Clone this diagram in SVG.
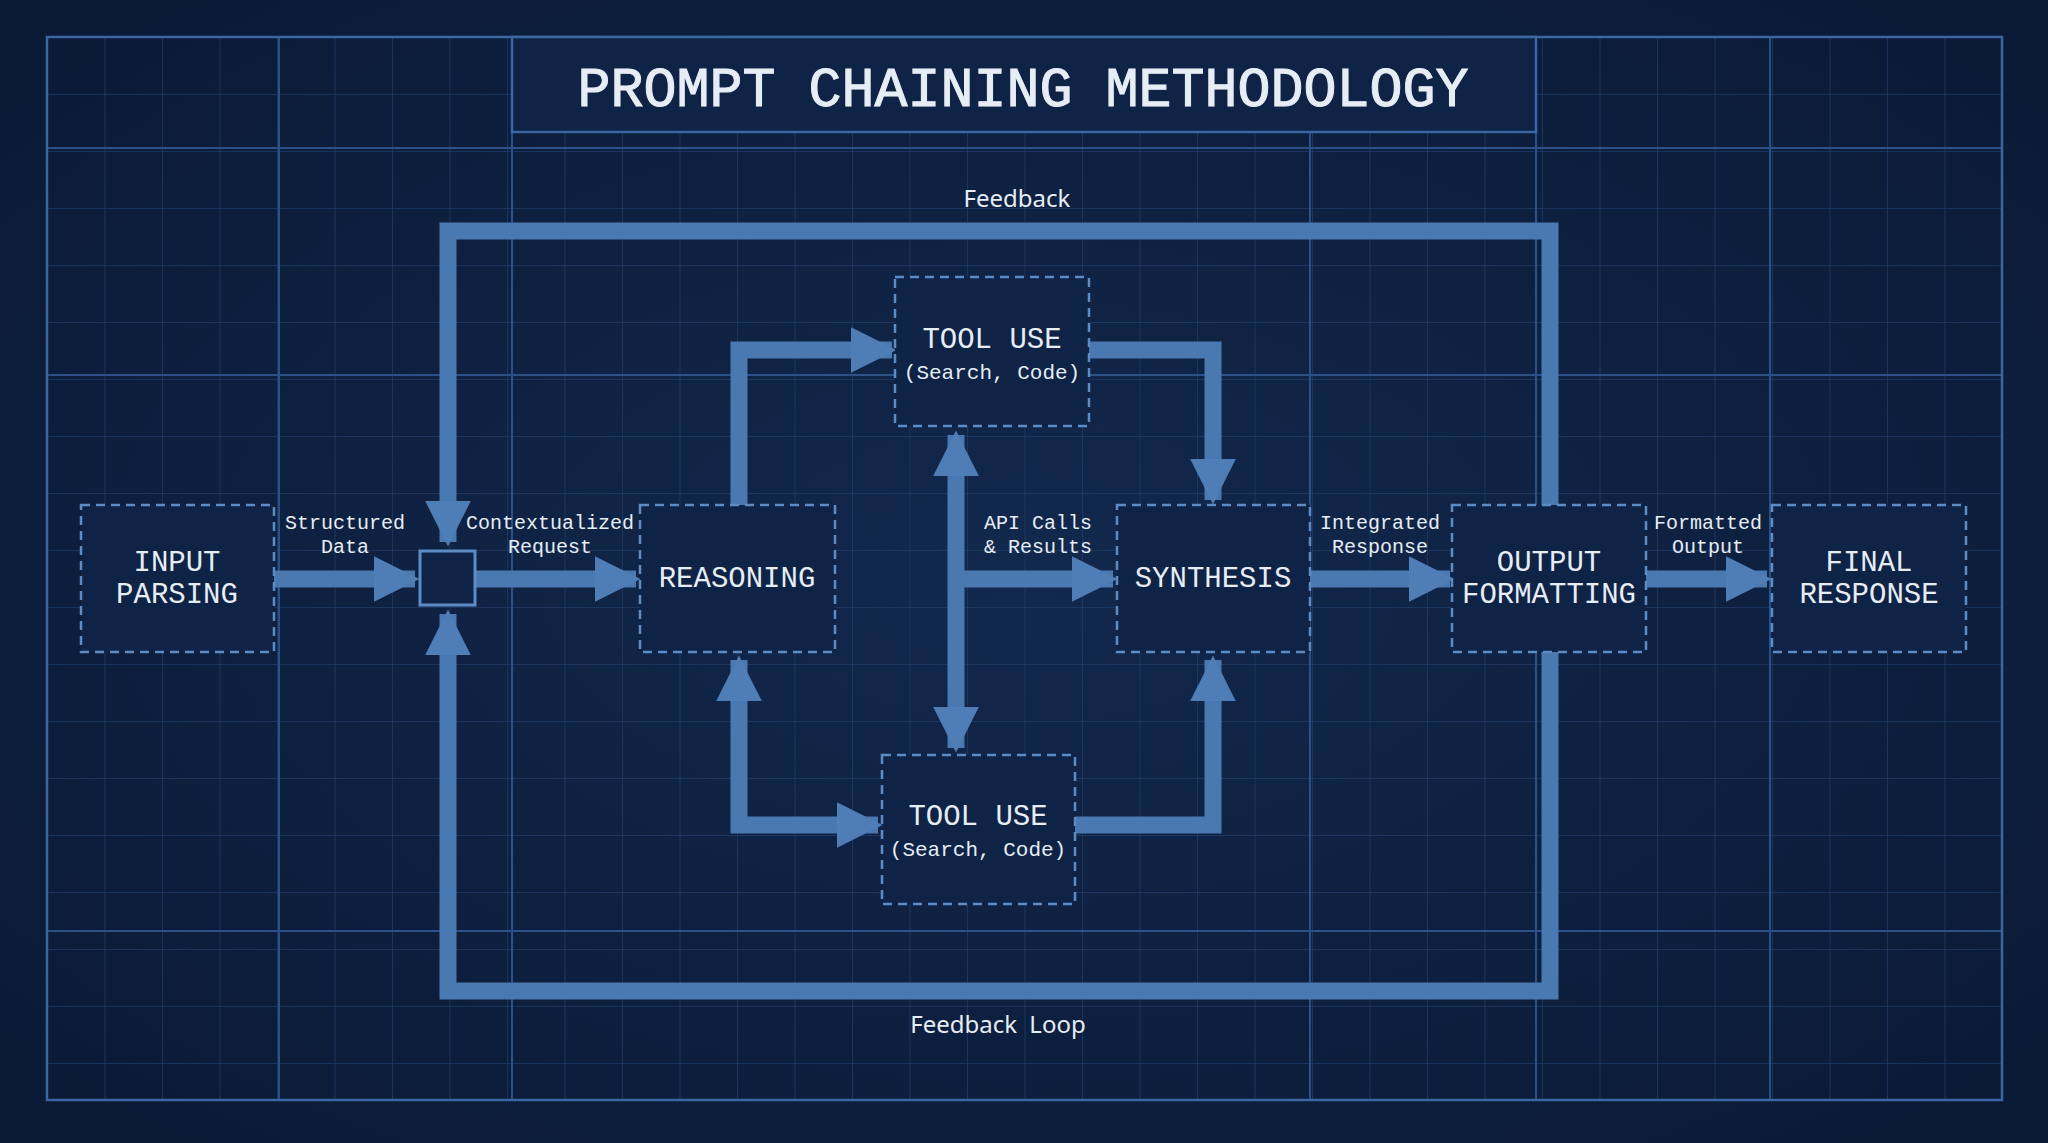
<svg xmlns="http://www.w3.org/2000/svg" width="2048" height="1143" viewBox="0 0 2048 1143">
<defs>
<pattern id="minor" x="47" y="37" width="57.5" height="57" patternUnits="userSpaceOnUse">
<path d="M0 0H57.5M0 0V57" fill="none" stroke="#1f3b66" stroke-width="1.5"/>
</pattern>
<radialGradient id="bg" cx="50%" cy="50%" r="70%">
<stop offset="0" stop-color="#12284d"/>
<stop offset="1" stop-color="#0a1934"/>
</radialGradient>
<marker id="ah" viewBox="0 0 10 10" refX="9" refY="5" markerWidth="2.7" markerHeight="2.7" orient="auto-start-reverse" markerUnits="strokeWidth">
<path d="M0 0L10 5L0 10Z" fill="#4f7db5"/>
</marker>
</defs>
<style>
.conn{fill:none;stroke:#4a78b0;stroke-width:17;stroke-linejoin:miter}
.node{fill:#0e2346;stroke:#5d8cc4;stroke-width:2.5;stroke-dasharray:9 6}
.nt{font-family:"Liberation Mono",monospace;font-size:29px;fill:#e6edf5;text-anchor:middle}
.st{font-family:"Liberation Mono",monospace;font-size:21px;fill:#e6edf5;text-anchor:middle}
.lb{font-family:"Liberation Mono",monospace;font-size:20px;fill:#e6edf5;text-anchor:middle}
.fb{font-family:"Noto Sans",sans-serif;font-size:24px;fill:#e6edf5;text-anchor:middle}
.maj{stroke:#2c5088;stroke-width:2}
</style>
<rect width="2048" height="1143" fill="url(#bg)"/>
<rect x="47" y="37" width="1955" height="1063" fill="url(#minor)"/>
<g class="maj">
<path d="M279 37V1100M512 37V1100M1310 37V1100M1536 37V1100M1770 37V1100M47 148H2002M47 375H2002M47 931H2002"/>
</g>
<rect x="47" y="37" width="1955" height="1063" fill="none" stroke="#3a66a3" stroke-width="2.5"/>
<g id="title">
<rect x="512" y="37" width="1024" height="95" fill="#0e2346" stroke="#3a66a3" stroke-width="2.5"/>
<text x="1023" y="106" font-family="Liberation Mono,monospace" font-size="55" fill="#e6edf5" text-anchor="middle" stroke="#e6edf5" stroke-width="1">PROMPT CHAINING METHODOLOGY</text>
</g>
<g id="connectors">
<path class="conn" d="M1550 505V231H448V542" marker-end="url(#ah)"/>
<path class="conn" d="M1550 652V991H448V614" marker-end="url(#ah)"/>
<path class="conn" d="M274 579H415" marker-end="url(#ah)"/>
<path class="conn" d="M475 579H636" marker-end="url(#ah)"/>
<path class="conn" d="M739 505V350H892" marker-end="url(#ah)"/>
<path class="conn" d="M1089 350H1213V500" marker-end="url(#ah)"/>
<path class="conn" d="M956 435V748" marker-start="url(#ah)" marker-end="url(#ah)"/>
<path class="conn" d="M956 579H1113" marker-end="url(#ah)"/>
<path class="conn" d="M739 660V825H878" marker-start="url(#ah)" marker-end="url(#ah)"/>
<path class="conn" d="M1075 825H1213V660" marker-end="url(#ah)"/>
<path class="conn" d="M1310 579H1450" marker-end="url(#ah)"/>
<path class="conn" d="M1646 579H1767" marker-end="url(#ah)"/>
<text class="fb" x="1017" y="207">Feedback</text>
<text class="fb" x="998" y="1033" word-spacing="6">Feedback Loop</text>
<text class="lb" x="345" y="529">Structured</text><text class="lb" x="345" y="553">Data</text>
<text class="lb" x="550" y="529">Contextualized</text><text class="lb" x="550" y="553">Request</text>
<text class="lb" x="1038" y="529">API Calls</text><text class="lb" x="1038" y="553">&amp; Results</text>
<text class="lb" x="1380" y="529">Integrated</text><text class="lb" x="1380" y="553">Response</text>
<text class="lb" x="1708" y="529">Formatted</text><text class="lb" x="1708" y="553">Output</text>
</g>
<g id="junction"><rect x="420" y="551" width="55" height="54" fill="#0e2346" stroke="#5d8cc4" stroke-width="3"/></g>
<g id="input"><rect class="node" x="81" y="505" width="193" height="147"/><text class="nt" x="177" y="571">INPUT</text><text class="nt" x="177" y="603">PARSING</text></g>
<g id="reasoning"><rect class="node" x="640" y="505" width="195" height="147"/><text class="nt" x="737" y="587">REASONING</text></g>
<g id="tooltop"><rect class="node" x="895" y="277" width="194" height="149"/><text class="nt" x="992" y="348">TOOL USE</text><text class="st" x="992" y="379">(Search, Code)</text></g>
<g id="toolbottom"><rect class="node" x="882" y="755" width="193" height="149"/><text class="nt" x="978" y="825">TOOL USE</text><text class="st" x="978" y="856">(Search, Code)</text></g>
<g id="synthesis"><rect class="node" x="1117" y="505" width="193" height="147"/><text class="nt" x="1213" y="587">SYNTHESIS</text></g>
<g id="output"><rect class="node" x="1452" y="505" width="194" height="147"/><text class="nt" x="1549" y="571">OUTPUT</text><text class="nt" x="1549" y="603">FORMATTING</text></g>
<g id="final"><rect class="node" x="1772" y="505" width="194" height="147"/><text class="nt" x="1869" y="571">FINAL</text><text class="nt" x="1869" y="603">RESPONSE</text></g>
</svg>
